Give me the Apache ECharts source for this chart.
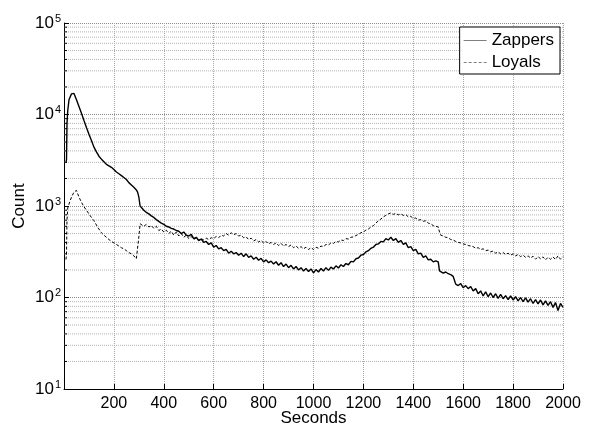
<!DOCTYPE html>
<html>
<head>
<meta charset="utf-8">
<script src="https://cdn.jsdelivr.net/npm/echarts@6/dist/echarts.min.js"></script>
<style>
  html, body { margin: 0; padding: 0; background: #fff; }
  #chart { width: 592px; height: 432px; }
</style>
</head>
<body>
<div id="chart"></div>
<script>
// [seconds, count] pairs
var zappers = [
  [8, 3000], [10, 3200], [12, 8000], [15, 11000], [20, 14500], [30, 16800], [40, 17000], [50, 14500],
  [60, 12200], [70, 10300], [80, 8600], [90, 7200], [100, 6100], [110, 5200], [120, 4400], [130, 3900],
  [140, 3500], [150, 3250], [160, 3050], [170, 2850], [180, 2750], [190, 2650], [200, 2500], [210, 2350],
  [220, 2250], [230, 2150], [240, 2050], [250, 1950], [260, 1800], [270, 1700], [280, 1600], [290, 1500],
  [295, 1420], [300, 1250], [305, 1000], [310, 960], [320, 900], [330, 850], [340, 820], [350, 780],
  [360, 750], [370, 710], [380, 680], [390, 650], [400, 630], [410, 600], [420, 590], [430, 570],
  [440, 560], [450, 540], [460, 530], [470, 500], [480, 520], [490, 480], [500, 470], [510, 490],
  [520, 440], [530, 455], [540, 420], [550, 435], [560, 400], [570, 410], [580, 380], [590, 395],
  [600, 355], [610, 370], [620, 340], [630, 350], [640, 325], [650, 335], [660, 305], [670, 320],
  [680, 300], [690, 310], [700, 290], [710, 305], [720, 280], [730, 300], [740, 275], [750, 285],
  [760, 262], [770, 275], [780, 255], [790, 268], [800, 245], [810, 258], [820, 240], [830, 250],
  [840, 232], [850, 246], [860, 225], [870, 240], [880, 218], [890, 232], [900, 212], [910, 225],
  [920, 205], [930, 218], [940, 200], [950, 212], [960, 195], [970, 208], [980, 192], [990, 205],
  [1000, 186], [1010, 202], [1020, 190], [1030, 208], [1040, 195], [1050, 212], [1060, 198], [1070, 215],
  [1080, 205], [1090, 222], [1100, 210], [1110, 228], [1120, 218], [1130, 235], [1140, 228], [1150, 248],
  [1160, 245], [1170, 265], [1180, 270], [1190, 290], [1200, 295], [1210, 315], [1220, 325], [1230, 345],
  [1240, 355], [1250, 380], [1260, 385], [1270, 410], [1280, 405], [1290, 440], [1300, 425], [1310, 455],
  [1320, 420], [1330, 440], [1340, 400], [1350, 420], [1360, 380], [1370, 395], [1380, 350], [1390, 360],
  [1400, 325], [1410, 335], [1420, 300], [1430, 305], [1440, 275], [1450, 285], [1460, 258], [1470, 262],
  [1480, 245], [1490, 252], [1500, 245], [1505, 195], [1510, 188], [1520, 185], [1530, 190], [1540, 182],
  [1550, 178], [1560, 170], [1570, 140], [1580, 135], [1590, 142], [1600, 128], [1610, 135], [1620, 125],
  [1630, 132], [1640, 118], [1650, 125], [1660, 110], [1670, 118], [1680, 104], [1690, 115], [1700, 102],
  [1710, 112], [1720, 100], [1730, 110], [1740, 98], [1750, 108], [1760, 97], [1770, 105], [1780, 95],
  [1790, 104], [1800, 94], [1810, 102], [1820, 92], [1830, 100], [1840, 90], [1850, 99], [1860, 89],
  [1870, 97], [1880, 86], [1890, 95], [1900, 85], [1910, 94], [1920, 83], [1930, 92], [1940, 82],
  [1950, 90], [1960, 78], [1970, 88], [1980, 72], [1990, 86], [2000, 78]
];

var loyals = [
  [8, 260], [10, 300], [12, 700], [15, 950], [20, 1050], [30, 1250], [40, 1420], [50, 1480],
  [60, 1250], [70, 1100], [80, 980], [90, 900], [100, 820], [110, 750], [120, 690], [130, 620],
  [140, 560], [150, 510], [160, 480], [170, 455], [180, 430], [190, 410], [200, 395], [210, 380],
  [220, 365], [230, 350], [240, 340], [250, 325], [260, 310], [270, 300], [280, 285], [290, 265],
  [295, 270], [300, 460], [305, 640], [310, 620], [320, 600], [330, 630], [340, 590], [350, 610],
  [360, 570], [370, 600], [380, 540], [390, 560], [400, 520], [410, 545], [420, 500], [430, 530],
  [440, 480], [450, 520], [460, 470], [470, 500], [480, 455], [490, 480], [500, 440], [510, 465],
  [520, 430], [530, 450], [540, 420], [550, 440], [560, 425], [570, 445], [580, 430], [590, 450],
  [600, 440], [610, 465], [620, 450], [630, 480], [640, 470], [650, 500], [660, 480], [670, 510],
  [680, 485], [690, 500], [700, 470], [710, 480], [720, 450], [730, 460], [740, 430], [750, 445],
  [760, 415], [770, 430], [780, 405], [790, 420], [800, 395], [810, 410], [820, 385], [830, 400],
  [840, 380], [850, 395], [860, 370], [870, 390], [880, 365], [890, 380], [900, 360], [910, 375],
  [920, 350], [930, 365], [940, 345], [950, 360], [960, 340], [970, 355], [980, 335], [990, 350],
  [1000, 335], [1010, 355], [1020, 345], [1030, 365], [1040, 360], [1050, 380], [1060, 375], [1070, 395],
  [1080, 390], [1090, 410], [1100, 405], [1110, 425], [1120, 420], [1130, 440], [1140, 435], [1150, 455],
  [1160, 460], [1170, 475], [1180, 490], [1190, 510], [1200, 520], [1210, 545], [1220, 560], [1230, 590],
  [1240, 610], [1250, 650], [1260, 690], [1270, 720], [1280, 760], [1290, 790], [1300, 820], [1310, 840],
  [1320, 810], [1330, 830], [1340, 800], [1350, 820], [1360, 790], [1370, 805], [1380, 760], [1390, 770],
  [1400, 730], [1410, 740], [1420, 700], [1430, 710], [1440, 680], [1450, 690], [1460, 650], [1470, 640],
  [1480, 610], [1490, 600], [1500, 590], [1505, 520], [1510, 480], [1520, 470], [1530, 455], [1540, 450],
  [1550, 430], [1560, 425], [1570, 410], [1580, 400], [1590, 395], [1600, 385], [1610, 380], [1620, 370],
  [1630, 365], [1640, 360], [1650, 345], [1660, 350], [1670, 335], [1680, 340], [1690, 325], [1700, 330],
  [1710, 315], [1720, 322], [1730, 305], [1740, 315], [1750, 300], [1760, 310], [1770, 295], [1780, 305],
  [1790, 290], [1800, 300], [1810, 285], [1820, 295], [1830, 280], [1840, 290], [1850, 275], [1860, 285],
  [1870, 270], [1880, 282], [1890, 262], [1900, 280], [1910, 265], [1920, 278], [1930, 258], [1940, 275],
  [1950, 262], [1960, 278], [1970, 260], [1980, 285], [1990, 262], [2000, 280]
];

// minor ticks of the log axis (2..9 per decade)
var yMinor = [
  20, 30, 40, 50, 60, 70, 80, 90,
  200, 300, 400, 500, 600, 700, 800, 900,
  2000, 3000, 4000, 5000, 6000, 7000, 8000, 9000,
  20000, 30000, 40000, 50000, 60000, 70000, 80000, 90000
];

var FONT = '"Liberation Sans", Arial, Helvetica, sans-serif';
var chart = echarts.init(document.getElementById('chart'), null, { renderer: 'canvas' });

chart.setOption({
  backgroundColor: '#fff',
  animation: false,
  textStyle: { fontFamily: FONT, color: '#000' },
  grid: { left: 64, right: 29, top: 23, bottom: 39 },
  legend: {
    data: [
      { name: 'Zappers', icon: 'rect' },
      { name: 'Loyals', icon: 'path://M0,0h3v1h-3zM5,0h3v1h-3zM10,0h3v1h-3zM15,0h3v1h-3zM20,0h3v1h-3z' }
    ],
    orient: 'vertical',
    right: 32,
    top: 27,
    padding: [5, 6, 3, 4],
    itemGap: 5,
    itemWidth: 23,
    itemHeight: 1,
    backgroundColor: '#fff',
    borderColor: '#000',
    borderWidth: 1,
    borderRadius: 0,
    itemStyle: { color: '#808080', borderWidth: 0 },
    textStyle: { fontFamily: FONT, fontSize: 17, color: '#000' }
  },
  xAxis: {
    type: 'value',
    min: 0,
    max: 2000,
    interval: 200,
    name: 'Seconds',
    nameLocation: 'middle',
    nameGap: 21,
    nameMoveOverlap: false,
    nameTextStyle: { fontFamily: FONT, fontSize: 17, color: '#000' },
    axisLine: { lineStyle: { color: '#000', width: 1 } },
    axisTick: { inside: true, length: 5, lineStyle: { color: '#000' } },
    axisLabel: {
      margin: 7,
      fontFamily: FONT,
      fontSize: 16,
      color: '#000',
      formatter: function (v) { return v === 0 ? '' : String(v); }
    },
    splitLine: { show: true, lineStyle: { color: '#a8a8a8', type: [1, 1], width: 1 } }
  },
  yAxis: {
    type: 'log',
    logBase: 10,
    min: 10,
    max: 100000,
    name: 'Count',
    nameLocation: 'middle',
    nameGap: 36,
    nameMoveOverlap: false,
    nameTextStyle: { fontFamily: FONT, fontSize: 17, color: '#000' },
    axisLine: { show: true, lineStyle: { color: '#000', width: 1 } },
    axisTick: { inside: true, length: 5, lineStyle: { color: '#000' } },
    axisLabel: {
      margin: 3,
      formatter: function (v) {
        return '{b|10}{s|' + Math.round(Math.log10(v)) + '}';
      },
      rich: {
        b: { fontFamily: FONT, fontSize: 17, color: '#000' },
        s: { fontFamily: FONT, fontSize: 11, color: '#000', padding: [0, 0, 9, 1] }
      }
    },
    splitLine: { show: true, lineStyle: { color: '#8a8a8a', type: [1, 1], width: 1 } }
  },
  series: [
    {
      name: 'minor',
      type: 'custom',
      silent: true,
      z: 1,
      data: yMinor.map(function (v) { return [0, v]; }),
      renderItem: function (params, api) {
        var cs = params.coordSys;
        var p = api.coord([0, api.value(1)]);
        return {
          type: 'group',
          children: [
            {
              type: 'line',
              shape: { x1: cs.x, y1: p[1], x2: cs.x + cs.width, y2: p[1] },
              style: { stroke: '#b4b4b4', lineWidth: 1, lineDash: [1, 1] }
            },
            {
              type: 'line',
              shape: { x1: cs.x, y1: p[1], x2: cs.x + 3, y2: p[1] },
              style: { stroke: '#000', lineWidth: 1 }
            }
          ]
        };
      }
    },
    {
      name: 'Zappers',
      type: 'line',
      data: zappers,
      showSymbol: false,
      symbol: 'none',
      z: 3,
      lineStyle: { color: '#000', width: 1.4, type: 'solid' },
      itemStyle: { color: '#000' }
    },
    {
      name: 'Loyals',
      type: 'line',
      data: loyals,
      showSymbol: false,
      symbol: 'none',
      z: 3,
      lineStyle: { color: '#000', width: 1, type: [3, 2] },
      itemStyle: { color: '#000' }
    }
  ]
});
</script>
</body>
</html>
